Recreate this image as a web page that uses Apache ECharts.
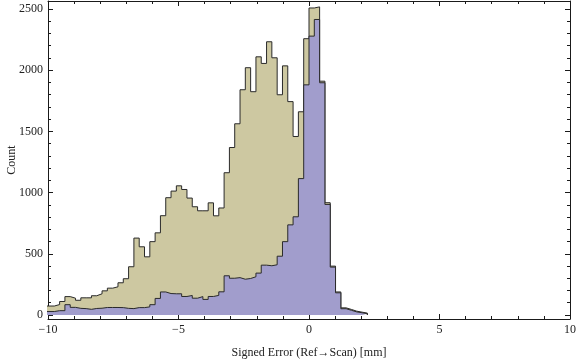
<!DOCTYPE html>
<html>
<head>
<meta charset="UTF-8">
<title>Signed Error histogram</title>
<script src="https://cdn.jsdelivr.net/npm/echarts@6/dist/echarts.min.js"></script>
<style>
  body { margin: 0; background: #ffffff; }
  #chart { width: 576px; height: 362px; }
</style>
</head>
<body>
<div id="chart"></div>
<script>
// bins: 61 bins of equal width, first one starting just left of -10
const binWidth = 0.2033;
const firstEdge = -10.165;

// counts per bin
const beigeCounts = [73, 73, 85, 110, 150, 137, 120, 140, 140, 157, 173, 197, 219, 230, 263, 296, 394, 628, 557, 475,
  599, 671, 811, 958, 1012, 1055, 1025, 955, 884, 851, 851, 916, 810, 874, 1162, 1368, 1562, 1840, 2020, 1824,
  2109, 2055, 2232, 2101, 1799, 2035, 1743, 1458, 1660, 2257, 2508, 2517, 1910, 917, 399, 188, 58, 45, 31, 23, 15];
const purpleCounts = [28, 28, 35, 35, 84, 62, 54, 52, 46, 53, 55, 61, 61, 61, 60, 54, 52, 60, 60, 66,
  84, 135, 188, 175, 173, 173, 151, 159, 137, 150, 127, 151, 160, 189, 320, 300, 305, 292, 298, 312,
  342, 407, 402, 410, 480, 599, 736, 802, 1114, 1880, 2278, 2414, 1897, 903, 391, 181, 51, 38, 25, 18, 10];

const yMajorTicks = [0, 500, 1000, 1500, 2000, 2500];
const yMinorTicks = [100, 200, 300, 400, 600, 700, 800, 900, 1100, 1200, 1300, 1400,
  1600, 1700, 1800, 1900, 2100, 2200, 2300, 2400];

const frameColor = '#1a1a1a';
const labelFont = { color: '#222', fontFamily: 'Liberation Serif, DejaVu Serif, serif', fontSize: 12 };

// left edge of every bin + a closing point so the step line drops back to 0
function stepData(counts) {
  const pts = counts.map((c, i) => [firstEdge + i * binWidth, c]);
  pts.push([firstEdge + counts.length * binWidth, 0]);
  return pts;
}

function xAxisDef(pos, showLabels) {
  return {
    type: 'value', position: pos, min: -10, max: 10, interval: 5,
    axisLine: { show: true, onZero: false, lineStyle: { color: frameColor, width: 1 } },
    axisTick: { inside: true, length: 5, lineStyle: { color: frameColor } },
    minorTick: { show: true, splitNumber: 5, length: 3, lineStyle: { color: frameColor } },
    splitLine: { show: false },
    axisLabel: showLabels ? Object.assign({
      margin: 5,
      formatter: v => String(v).replace('-', '\u2212')
    }, labelFont) : { show: false }
  };
}

function yAxisDef(pos, ticks, len, showLabels, showLine) {
  return {
    type: 'value', position: pos, min: -33, max: 2565,
    axisLine: { show: showLine, onZero: false, lineStyle: { color: frameColor, width: 1 } },
    axisTick: { inside: true, length: len, customValues: ticks, lineStyle: { color: frameColor } },
    splitLine: { show: false },
    axisLabel: showLabels ? Object.assign({
      margin: 5, customValues: ticks, formatter: v => String(v)
    }, labelFont) : { show: false }
  };
}

const yLeft = yAxisDef('left', yMajorTicks, 5, true, true);
yLeft.name = 'Count';
yLeft.nameLocation = 'middle';
yLeft.nameGap = 30;
yLeft.nameMoveOverlap = false;
yLeft.nameTextStyle = labelFont;

const xBottom = xAxisDef('bottom', true);
xBottom.name = 'Signed Error (Ref\u2192Scan) [mm]';
xBottom.nameLocation = 'middle';
xBottom.nameGap = 28;
xBottom.nameMoveOverlap = false;
xBottom.nameTextStyle = labelFont;

const option = {
  animation: false,
  backgroundColor: '#ffffff',
  grid: { left: 48, right: 6, top: 1, bottom: 43, containLabel: false, outerBoundsMode: 'none' },
  xAxis: [xBottom, xAxisDef('top', false)],
  yAxis: [
    yLeft,
    yAxisDef('left', yMinorTicks, 3, false, false),
    yAxisDef('right', yMajorTicks, 5, false, true),
    yAxisDef('right', yMinorTicks, 3, false, false)
  ],
  series: [
    {
      type: 'line', step: 'end', showSymbol: false, z: 2,
      xAxisIndex: 0, yAxisIndex: 0,
      lineStyle: { color: '#2a2a2a', width: 1 },
      areaStyle: { color: '#cdc8a1', opacity: 1 },
      data: stepData(beigeCounts)
    },
    {
      type: 'line', step: 'end', showSymbol: false, z: 3,
      xAxisIndex: 0, yAxisIndex: 0,
      lineStyle: { color: '#2a2a2a', width: 1 },
      areaStyle: { color: '#a19dcc', opacity: 1 },
      data: stepData(purpleCounts)
    }
  ]
};

const chart = echarts.init(document.getElementById('chart'));
chart.setOption(option);
</script>
</body>
</html>
